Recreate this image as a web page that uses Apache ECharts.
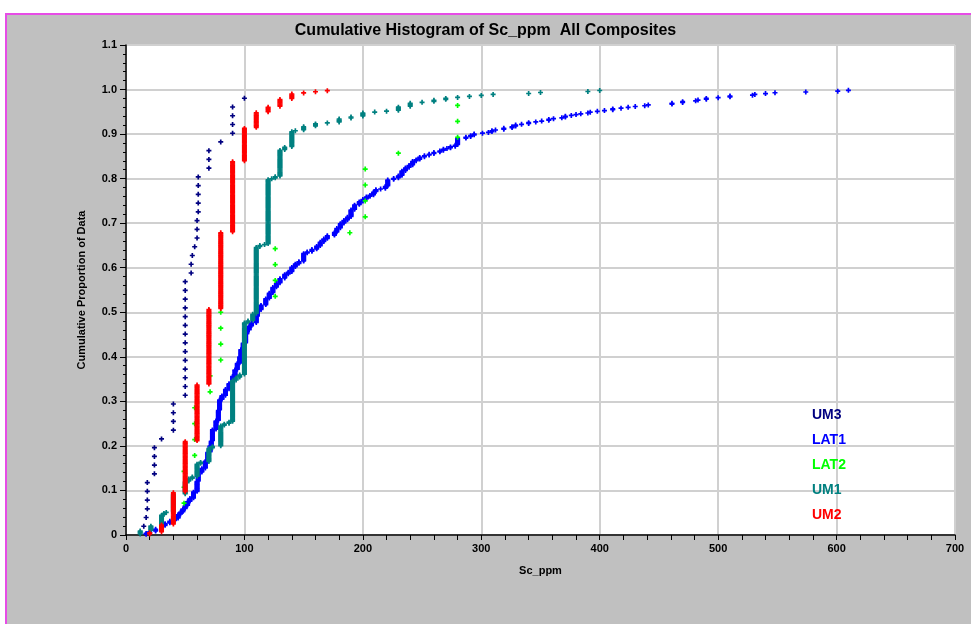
<!DOCTYPE html>
<html>
<head>
<meta charset="utf-8">
<script src="https://cdn.jsdelivr.net/npm/echarts@6/dist/echarts.min.js"></script>
<style>
  html, body { margin: 0; padding: 0; background: #ffffff; width: 971px; height: 624px; overflow: hidden; }
  #panel { position: absolute; left: 5px; top: 13px; width: 966px; height: 611px; background: #c0c0c0;
           border-left: 2px solid #e64ce6; border-top: 2px solid #e64ce6; box-sizing: border-box; }
  #chart { position: absolute; left: 0; top: 0; width: 971px; height: 624px; }
</style>
</head>
<body>
<div id="panel"></div>
<div id="chart"></div>
<script>
// Domain names and colours, in drawing order
const seriesNames = ['UM3', 'LAT1', 'LAT2', 'UM1', 'UM2'];
const seriesColors = ['#000080', '#0000ff', '#00ff00', '#008080', '#ff0000'];

// Each entry: [Sc_ppm, number of composites with Sc_ppm <= value]
const um3 = [[15,1],[17,2],[18,6],[24,10],[30,11],[40,15],[50,29],[55,31],[56,32],[58,33],[60,36],[61,41],[70,44],[80,45],[90,49],[100,50]];

const lat2 = [[40,1],[49,4],[58,8],[71,10],[80,14],[126,18],[189,19],[202,23],[230,24],[280,27]];

const um2 = [[20,2],[30,9],[40,38],[50,84],[60,135],[70,203],[80,272],[90,336],[100,366],[110,380],[120,385],[130,392],[140,397],[150,398],[160,399],[170,400]];

const um1 = [[12,4],[21,9],[30,20],[32,22],[34,23],[40,41],[50,54],[53,57],[56,59],[60,72],[63,74],[70,88],[73,90],
  [80,111],[83,113],[87,115],[90,157],[93,160],[96,163],[100,216],[103,218],[107,225],[110,293],[113,295],[117,296],
  [120,362],[123,363],[126,365],[130,392],[134,395],[140,411],[143,412],[150,416],[160,419],[170,420],[180,424],
  [190,426],[200,430],[210,431],[220,432],[230,436],[240,440],[250,441],[260,443],[270,445],[280,446],[290,447],
  [300,448],[310,449],[340,450],[350,451],[390,452],[400,453]];

const lat1 = [[17,2],[20,4],[25,7],[30,11],[33,14],[37,17],[41,20],[44,25],[46,28],[48,32],[50,36],[52,41],[54,45],
  [57,53],[60,66],[61,77],[64,82],[67,91],[69,102],[71,110],[72,116],[73,130],[76,141],[78,154],[79,167],[81,172],
  [84,180],[87,187],[90,196],[92,204],[94,212],[96,220],[97,229],[99,237],[101,248],[102,253],[104,258],[106,262],
  [110,270],[111,278],[114,284],[118,292],[121,299],[124,306],[127,311],[130,317],[134,322],[137,325],[140,331],
  [143,335],[146,338],[150,348],[153,350],[157,353],[161,357],[164,362],[167,366],[170,370],[176,374],[178,379],
  [181,385],[184,389],[187,393],[190,402],[193,408],[197,412],[200,415],[203,418],[206,420],[209,424],[211,427],
  [215,428],[219,431],[221,439],[226,441],[230,444],[233,450],[236,454],[239,457],[242,462],[245,464],[248,467],
  [252,469],[256,471],[260,473],[265,475],[268,477],[271,478],[274,480],[278,482],[280,490],[287,492],[291,494],
  [294,496],[301,497],[306,498],[309,500],[312,501],[319,503],[326,505],[329,507],[334,508],[340,510],[346,511],
  [351,512],[357,514],[361,515],[368,516],[371,518],[376,519],[380,520],[384,521],[390,522],[392,523],[398,524],
  [404,525],[411,527],[418,528],[424,529],[430,530],[438,531],[441,532],[461,534],[470,536],[481,537],[483,538],
  [490,540],[500,541],[510,543],[529,544],[531,545],[540,546],[548,547],[574,548],[601,549],[610,550]];

const seriesData = [um3, lat1, lat2, um1, um2];

// Y axis tick labels
const yTickLabels = ['0', '0.1', '0.2', '0.3', '0.4', '0.5', '0.6', '0.7', '0.8', '0.9', '1.0', '1.1'];

// One point per composite: x = value, y = rank / (n + 1)
function cumulativePoints(pairs) {
  const n = pairs[pairs.length - 1][1];
  const pts = [];
  let prev = 0;
  for (const [value, cum] of pairs) {
    for (let r = prev + 1; r <= cum; r++) pts.push([value, r / (n + 1)]);
    prev = cum;
  }
  return pts;
}

const FONT = '"Liberation Sans", Arial, sans-serif';
const plusSymbol = 'path://M1,0H2V1H3V2H2V3H1V2H0V1H1Z';

const chart = echarts.init(document.getElementById('chart'), null, { renderer: 'canvas' });

chart.setOption({
  animation: false,
  backgroundColor: 'transparent',
  title: {
    text: 'Cumulative Histogram of Sc_ppm  All Composites',
    left: 'center',
    top: 18,
    textStyle: { fontFamily: FONT, fontWeight: 'bold', fontSize: 16, color: '#000' }
  },
  legend: {
    orient: 'vertical',
    left: 807,
    top: 408,
    padding: 0,
    itemWidth: 0,
    itemHeight: 0,
    itemGap: 10,
    selectedMode: false,
    icon: 'rect',
    textStyle: { fontFamily: FONT, fontWeight: 'bold', fontSize: 14, lineHeight: 15 },
    data: seriesNames.map((name, i) => ({ name, textStyle: { color: seriesColors[i] } }))
  },
  grid: {
    left: 126, top: 45, right: 16, bottom: 89,
    show: true, backgroundColor: '#ffffff', borderWidth: 0
  },
  xAxis: {
    type: 'value',
    min: 0, max: 700, interval: 100,
    name: 'Sc_ppm',
    nameLocation: 'middle',
    nameGap: 30,
    nameTextStyle: { fontFamily: FONT, fontWeight: 'bold', fontSize: 11, color: '#000' },
    axisLine: { show: true, onZero: false, lineStyle: { color: '#000', width: 1.5 } },
    axisTick: { show: true, length: 5, lineStyle: { color: '#000' } },
    minorTick: { show: true, splitNumber: 5, length: 5, lineStyle: { color: '#000' } },
    axisLabel: { fontFamily: FONT, fontWeight: 'bold', fontSize: 11, color: '#000', margin: 8 },
    splitLine: { show: true, lineStyle: { color: '#d0d0d0', width: 2 } }
  },
  yAxis: {
    type: 'value',
    min: 0, max: 1.1, interval: 0.1,
    name: 'Cumulative Proportion of Data',
    nameLocation: 'middle',
    nameGap: 39,
    nameTextStyle: { fontFamily: FONT, fontWeight: 'bold', fontSize: 11, color: '#000' },
    axisLine: { show: true, onZero: false, lineStyle: { color: '#000', width: 1.5 } },
    axisTick: { show: true, length: 6, lineStyle: { color: '#000' } },
    minorTick: { show: true, splitNumber: 5, length: 3, lineStyle: { color: '#000' } },
    axisLabel: {
      fontFamily: FONT, fontWeight: 'bold', fontSize: 11, color: '#000', margin: 9,
      formatter: v => yTickLabels[Math.round(v * 10)]
    },
    splitLine: { show: true, lineStyle: { color: '#d0d0d0', width: 2 } }
  },
  series: seriesNames.map((name, i) => ({
    name,
    type: 'scatter',
    data: cumulativePoints(seriesData[i]),
    symbol: plusSymbol,
    symbolSize: 5,
    silent: true,
    large: false,
    itemStyle: { color: seriesColors[i], opacity: 1 },
    z: 2 + i
  }))
});
</script>
</body>
</html>
